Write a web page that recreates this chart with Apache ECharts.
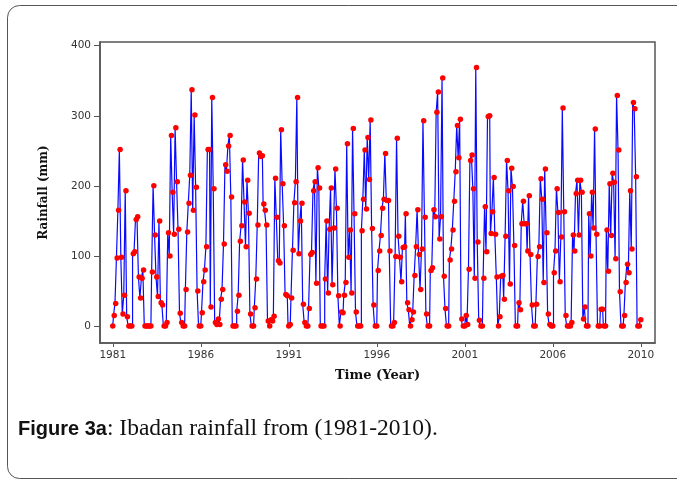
<!DOCTYPE html>
<html>
<head>
<meta charset="utf-8">
<script src="https://cdn.jsdelivr.net/npm/echarts@6/dist/echarts.min.js"></script>
<style>
  html, body { margin: 0; padding: 0; background: #fff; }
  #chart { width: 677px; height: 479px; }
</style>
</head>
<body>
<div id="chart"></div>
<script>
// monthly rainfall (mm), Ibadan; one array per 5 years
var rain1981_85 = [
  0, 15, 32, 97, 165, 252, 98, 17, 44, 193, 13, 0,
  0, 0, 103, 106, 152, 156, 70, 40, 68, 80, 0, 0,
  0, 0, 0, 77, 200, 130, 70, 42, 150, 33, 30, 0,
  0, 5, 133, 100, 272, 191, 131, 283, 206, 138, 18, 5,
  0, 0, 52, 134, 175, 215, 337, 165, 301, 198, 50, 0
];
var rain1986_90 = [
  0, 19, 63, 80, 113, 252, 252, 27, 326, 196, 5, 2,
  10, 2, 38, 52, 117, 230, 221, 257, 272, 184, 0, 0,
  0, 21, 44, 121, 143, 237, 177, 113, 208, 161, 17, 0,
  0, 26, 67, 144, 247, 242, 243, 174, 165, 144, 7, 0,
  9, 7, 14, 211, 155, 93, 90, 280, 203, 143, 45, 43
];
var rain1991_95 = [
  0, 2, 40, 108, 176, 206, 326, 103, 150, 175, 31, 5,
  0, 0, 25, 102, 105, 193, 206, 61, 226, 197, 0, 0,
  0, 67, 150, 47, 138, 197, 59, 140, 224, 168, 43, 0,
  20, 19, 44, 62, 260, 98, 137, 47, 282, 160, 20, 0,
  0, 0, 136, 181, 251, 167, 269, 209, 294, 139, 30, 0
];
var rain1996_2000 = [
  0, 79, 107, 129, 168, 181, 246, 179, 179, 107, 0, 0,
  5, 99, 268, 128, 98, 63, 112, 113, 160, 33, 23, 0,
  9, 20, 72, 113, 166, 102, 52, 110, 293, 155, 17, 0,
  0, 79, 83, 166, 156, 305, 334, 124, 156, 354, 71, 25,
  0, 0, 94, 110, 137, 178, 220, 286, 240, 295, 10, 0
];
var rain2001_05 = [
  0, 15, 2, 81, 236, 244, 196, 68, 369, 120, 8, 0,
  0, 68, 170, 106, 299, 300, 132, 163, 212, 131, 70, 0,
  13, 71, 72, 38, 128, 236, 193, 60, 225, 199, 115, 0,
  0, 33, 23, 146, 178, 146, 146, 107, 186, 102, 30, 0,
  0, 31, 99, 113, 210, 181, 62, 224, 133, 17, 2, 0
];
var rain2006_10 = [
  0, 76, 107, 196, 162, 63, 127, 311, 163, 15, 0, 0,
  0, 5, 130, 107, 189, 208, 130, 208, 191, 10, 27, 0,
  0, 160, 100, 191, 140, 281, 131, 0, 0, 24, 24, 0,
  0, 137, 78, 203, 129, 218, 205, 96, 329, 251, 49, 0,
  0, 15, 62, 88, 76, 193, 110, 319, 310, 213, 0, 0,
  9
];

// x ticks sit on month index, one every 60 months
var xTickIndex = [0, 60, 120, 180, 240, 300, 360];
var xTickLabels = ['1981', '1986', '1991', '1996', '2001', '2006', '2010'];
var yTicks = [0, 100, 200, 300, 400];

var rain = [].concat(rain1981_85, rain1986_90, rain1991_95, rain1996_2000, rain2001_05, rain2006_10);
var seriesData = rain.map(function (v, i) { return [i, v]; });

var tickFont = { fontFamily: 'DejaVu Sans', fontSize: 10.5, color: '#333' };

var option = {
  animation: false,
  backgroundColor: '#fff',
  grid: {
    left: 100, right: 22, top: 42, bottom: 136,
    show: true, borderColor: '#555', borderWidth: 1.5
  },
  xAxis: {
    type: 'value',
    min: -8.7,
    max: 369.7,
    name: 'Time (Year)',
    nameLocation: 'middle',
    nameGap: 26,
    nameTextStyle: { fontFamily: 'DejaVu Serif', fontWeight: 'bold', fontSize: 13, color: '#111' },
    axisLine: { show: true, onZero: false, lineStyle: { color: '#555', width: 1.5 } },
    axisTick: { show: true, length: 4, customValues: xTickIndex, lineStyle: { color: '#555' } },
    axisLabel: {
      customValues: xTickIndex,
      margin: 7,
      fontFamily: tickFont.fontFamily, fontSize: tickFont.fontSize, color: tickFont.color,
      formatter: function (v) {
        var k = xTickIndex.indexOf(v);
        return k >= 0 ? xTickLabels[k] : '';
      }
    },
    splitLine: { show: false }
  },
  yAxis: {
    type: 'value',
    min: -24.3,
    max: 405.3,
    name: 'Rainfall (mm)',
    nameLocation: 'middle',
    nameGap: 50,
    nameTextStyle: { fontFamily: 'DejaVu Serif', fontWeight: 'bold', fontSize: 12, color: '#111' },
    axisLine: { show: true, onZero: false, lineStyle: { color: '#555', width: 1.5 } },
    axisTick: { show: true, length: 6, customValues: yTicks, lineStyle: { color: '#555' } },
    axisLabel: {
      customValues: yTicks,
      margin: 9,
      fontFamily: tickFont.fontFamily, fontSize: tickFont.fontSize, color: tickFont.color
    },
    splitLine: { show: false }
  },
  series: [{
    type: 'line',
    data: seriesData,
    step: 'middle',
    showAllSymbol: true,
    symbol: 'circle',
    symbolSize: 5.5,
    lineStyle: { color: '#0a0aff', width: 1.2 },
    itemStyle: { color: '#ff0000', borderWidth: 0 },
    z: 3
  }],
  graphic: [
    {
      type: 'rect',
      shape: { x: 7.5, y: 5.5, width: 700, height: 473, r: 12 },
      style: { fill: 'none', stroke: '#555', lineWidth: 1 },
      silent: true
    },
    {
      type: 'text',
      left: 18,
      top: 417,
      style: {
        text: '{b|Figure 3a}{n|: Ibadan rainfall from (1981-2010).}',
        rich: {
          b: { fontFamily: 'Liberation Sans', fontWeight: 'bold', fontSize: 20, fill: '#111' },
          n: { fontFamily: 'Liberation Serif', fontSize: 23.5, fill: '#111' }
        }
      }
    }
  ]
};

var myChart = echarts.init(document.getElementById('chart'));
myChart.setOption(option);
</script>
</body>
</html>
